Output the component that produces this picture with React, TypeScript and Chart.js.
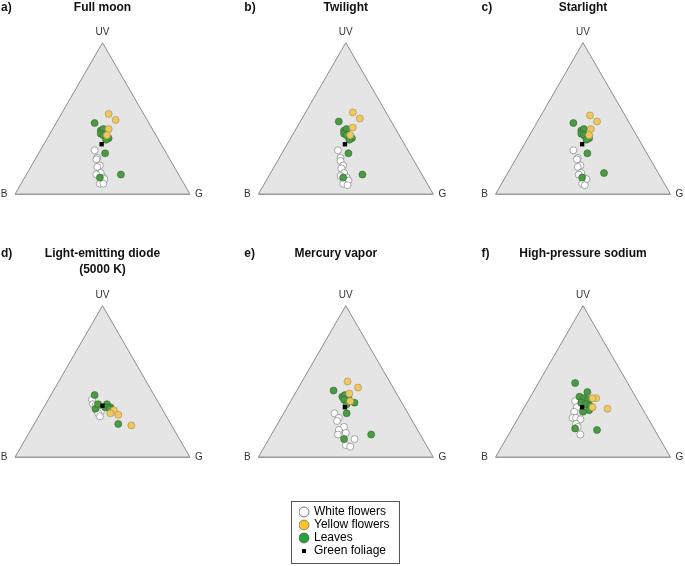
import React, { useEffect, useRef } from "react";
import { Chart, registerables } from "chart.js";

Chart.register(...registerables);

const FONT = '"Liberation Sans", Arial, Helvetica, sans-serif';
const SQRT3_2 = Math.sqrt(3) / 2;

// Ternary compositions in percent: [UV, B, G]
const TRIANGLE_SIDES = [[0, 100, 0], [100, 0, 0], [0, 0, 100]];
const TRIANGLE_BASE = [[0, 100, 0], [0, 0, 100]];

const FULL_MOON_WHITE = [[29, 40, 31], [24, 41, 35], [23, 42, 35], [19, 42, 39], [18, 44, 38], [14, 44, 42], [13, 47, 40], [11, 44, 45], [10, 44, 46], [7, 48, 45], [7, 46, 47]];
const FULL_MOON_YELLOW = [[53, 20, 27], [49, 18, 33], [43, 25, 32], [39, 28, 33]];
const FULL_MOON_GREEN = [[47, 31, 22], [42, 30, 28], [43, 28, 29], [40, 31, 29], [39, 30, 31], [37, 28, 35], [36, 30, 34], [27, 35, 38], [13, 33, 54], [11, 46, 43]];
const FULL_MOON_FOLIAGE = [[33, 34, 33]];

const TWILIGHT_WHITE = [[29, 40, 31], [24, 41, 35], [22, 42, 36], [19, 42, 39], [17, 44, 39], [14, 44, 42], [12, 47, 41], [11, 44, 45], [9, 44, 47], [7, 48, 45], [6, 46, 48]];
const TWILIGHT_YELLOW = [[54, 19, 27], [50, 17, 33], [44, 24, 32], [39, 28, 33]];
const TWILIGHT_GREEN = [[48, 30, 22], [42, 30, 28], [43, 28, 29], [40, 31, 29], [39, 30, 31], [37, 28, 35], [36, 30, 34], [27, 35, 38], [13, 34, 53], [11, 46, 43]];
const TWILIGHT_FOLIAGE = [[33, 34, 33]];

const STARLIGHT_WHITE = [[29, 41, 30], [24, 41, 35], [23, 42, 35], [19, 42, 39], [18, 44, 38], [14, 44, 42], [13, 46, 41], [11, 44, 45], [10, 43, 47], [7, 47, 46], [6, 46, 48]];
const STARLIGHT_YELLOW = [[52, 20, 28], [48, 18, 34], [43, 24, 33], [39, 27, 34]];
const STARLIGHT_GREEN = [[47, 32, 21], [42, 30, 28], [43, 28, 29], [40, 31, 29], [39, 30, 31], [37, 28, 35], [36, 30, 34], [27, 34, 39], [14, 31, 55], [11, 45, 44]];
const STARLIGHT_FOLIAGE = [[33, 34, 33]];

const LED_WHITE = [[38, 37, 25], [35, 38, 27], [34, 37, 29], [31, 38, 31], [30, 36, 34], [29, 38, 33], [27, 38, 35]];
const LED_YELLOW = [[31, 28, 41], [29, 31, 40], [28, 27, 45], [21, 23, 56]];
const LED_GREEN = [[41, 34, 25], [32, 38, 30], [35, 35, 30], [35, 30, 35], [33, 29, 38], [33, 32, 35], [32, 30, 38], [22, 30, 48]];
const LED_FOLIAGE = [[34, 33, 33]];

const MERCURY_WHITE = [[29, 42, 29], [26, 41, 33], [24, 43, 33], [20, 41, 39], [18, 45, 37], [16, 42, 42], [15, 47, 38], [12, 39, 49], [8, 46, 46], [7, 44, 49]];
const MERCURY_YELLOW = [[50, 24, 26], [46, 20, 34], [42, 27, 31], [37, 29, 34]];
const MERCURY_GREEN = [[44, 35, 21], [40, 32, 28], [41, 30, 29], [39, 29, 32], [38, 32, 30], [36, 27, 37], [35, 32, 33], [29, 35, 36], [15, 28, 57], [12, 45, 43]];
const MERCURY_FOLIAGE = [[33, 34, 33]];

const HPS_WHITE = [[37, 36, 27], [33, 37, 30], [30, 40, 30], [26, 43, 31], [26, 41, 33], [25, 39, 36], [22, 43, 35], [20, 43, 37], [15, 44, 41]];
const HPS_YELLOW = [[39, 23, 38], [39, 25, 36], [33, 28, 39], [32, 20, 48]];
const HPS_GREEN = [[49, 30, 21], [43, 26, 31], [40, 32, 28], [39, 30, 31], [38, 28, 34], [36, 33, 31], [35, 31, 34], [34, 29, 37], [31, 31, 38], [30, 35, 35], [19, 45, 36], [18, 33, 49]];
const HPS_FOLIAGE = [[33, 34, 33]];

const PANEL_LETTERS = ["a)", "b)", "c)", "d)", "e)", "f)"];
const PANEL_TITLES = [["Full moon"], ["Twilight"], ["Starlight"], ["Light-emitting diode", "(5000 K)"], ["Mercury vapor"], ["High-pressure sodium"]];
const VERTEX_LABELS = ["UV", "B", "G"];
const LEGEND_LABELS = ["White flowers", "Yellow flowers", "Leaves", "Green foliage"];

const PANEL_DATA = [
  [FULL_MOON_WHITE, FULL_MOON_YELLOW, FULL_MOON_GREEN, FULL_MOON_FOLIAGE],
  [TWILIGHT_WHITE, TWILIGHT_YELLOW, TWILIGHT_GREEN, TWILIGHT_FOLIAGE],
  [STARLIGHT_WHITE, STARLIGHT_YELLOW, STARLIGHT_GREEN, STARLIGHT_FOLIAGE],
  [LED_WHITE, LED_YELLOW, LED_GREEN, LED_FOLIAGE],
  [MERCURY_WHITE, MERCURY_YELLOW, MERCURY_GREEN, MERCURY_FOLIAGE],
  [HPS_WHITE, HPS_YELLOW, HPS_GREEN, HPS_FOLIAGE],
];

// layout
const TRI_W = 175;
const TRI_H = TRI_W * SQRT3_2;
const COLS = [
  { x: 0, w: 228, triLeft: 15 },
  { x: 228, w: 228, triLeft: 258.3 },
  { x: 456, w: 229, triLeft: 495.5 },
];
const ROWS = [
  { y: 0, h: 236, apexY: 42.7, titleY: 7.5 },
  { y: 236, h: 254, apexY: 305.7, titleY: 18 },
];
const TITLE_DX = [0, 0, 0, 0, -10, 0];

const toXY = (t: number[]) => {
  const [uv, b, g] = t;
  const s = uv + b + g;
  return { x: (g + uv / 2) / s, y: (uv / s) * SQRT3_2 };
};

const STYLES = {
  white: { bg: "#ffffff", border: "#707070" },
  yellow: { bg: "#f2c85a", border: "#9b8c5c" },
  green: { bg: "#4c9a44", border: "#2f6a2c" },
};

function Panel({ index }: { index: number }) {
  const ref = useRef<HTMLCanvasElement | null>(null);
  const col = COLS[index % 3];
  const row = ROWS[Math.floor(index / 3)];
  useEffect(() => {
    if (!ref.current) return;
    const [white, yellow, green, foliage] = PANEL_DATA[index];
    const pad = {
      left: col.triLeft - col.x,
      right: col.x + col.w - (col.triLeft + TRI_W),
      top: row.apexY - row.y,
      bottom: row.y + row.h - (row.apexY + TRI_H),
    };
    const labelPlugin = {
      id: "ternaryLabels",
      afterDraw(chart: any) {
        const { ctx } = chart;
        const xs = chart.scales.x;
        const ys = chart.scales.y;
        const ax = xs.getPixelForValue(0.5);
        const ay = ys.getPixelForValue(SQRT3_2);
        const bx = xs.getPixelForValue(0);
        const by = ys.getPixelForValue(0);
        const gx = xs.getPixelForValue(1);
        ctx.save();
        ctx.textBaseline = "middle";
        ctx.textAlign = "center";
        ctx.font = `10px ${FONT}`;
        ctx.fillStyle = "#333333";
        ctx.fillText(VERTEX_LABELS[0], ax, ay - 10);
        ctx.fillText(VERTEX_LABELS[1], bx - 11, by);
        ctx.fillText(VERTEX_LABELS[2], gx + 9, by);
        ctx.font = `bold 12px ${FONT}`;
        ctx.fillStyle = "#111111";
        PANEL_TITLES[index].forEach((line, i) => {
          ctx.fillText(line, ax + TITLE_DX[index], row.titleY + i * 16);
        });
        ctx.textAlign = "left";
        ctx.fillText(PANEL_LETTERS[index], bx - 14, row.titleY);
        ctx.restore();
      },
    };
    const pt = (data: number[][], st: { bg: string; border: string }, order: number, label: string) => ({
      type: "scatter" as const,
      label,
      data: data.map(toXY),
      backgroundColor: st.bg,
      borderColor: st.border,
      borderWidth: 0.6,
      pointRadius: 3.5,
      pointHoverRadius: 3.5,
      order,
      clip: false as any,
    });
    const chart = new Chart(ref.current, {
      type: "scatter",
      data: {
        datasets: [
          {
            type: "scatter",
            label: LEGEND_LABELS[3],
            data: foliage.map(toXY),
            backgroundColor: "#000000",
            borderColor: "#000000",
            borderWidth: 0,
            pointStyle: "rect",
            pointRadius: 3.1,
            pointHoverRadius: 3.1,
            order: 1,
            clip: false as any,
          },
          pt(yellow, STYLES.yellow, 2, LEGEND_LABELS[1]),
          pt(green, STYLES.green, 3, LEGEND_LABELS[2]),
          pt(white, STYLES.white, 4, LEGEND_LABELS[0]),
          {
            type: "line",
            label: "triangle base",
            data: TRIANGLE_BASE.map(toXY),
            borderColor: "#9a9a9a",
            borderWidth: 1.6,
            fill: false,
            pointRadius: 0,
            pointHoverRadius: 0,
            tension: 0,
            order: 5,
            clip: false as any,
          } as any,
          {
            type: "line",
            label: "triangle",
            data: TRIANGLE_SIDES.map(toXY),
            borderColor: "#8c8c8c",
            borderWidth: 1,
            backgroundColor: "#e5e5e5",
            fill: "origin",
            pointRadius: 0,
            pointHoverRadius: 0,
            tension: 0,
            order: 6,
            clip: false as any,
          } as any,
        ],
      },
      options: {
        responsive: false,
        animation: false,
        events: [],
        layout: { padding: pad },
        scales: {
          x: { type: "linear", min: 0, max: 1, display: false },
          y: { type: "linear", min: 0, max: SQRT3_2, display: false },
        },
        plugins: {
          legend: { display: false },
          tooltip: { enabled: false },
          title: { display: false },
        },
      },
      plugins: [labelPlugin],
    } as any);
    return () => chart.destroy();
  }, [index]);
  return (
    <canvas
      ref={ref}
      width={col.w}
      height={row.h}
      style={{ position: "absolute", left: col.x, top: row.y, width: col.w, height: row.h }}
    />
  );
}

function Legend() {
  const ref = useRef<HTMLCanvasElement | null>(null);
  useEffect(() => {
    if (!ref.current) return;
    const sq = document.createElement("canvas");
    sq.width = 4;
    sq.height = 4;
    const sctx = sq.getContext("2d");
    if (sctx) {
      sctx.fillStyle = "#000";
      sctx.fillRect(0, 0, 4, 4);
    }
    const chart = new Chart(ref.current, {
      type: "scatter",
      data: {
        datasets: [
          { label: LEGEND_LABELS[0], data: [], backgroundColor: "#ffffff", borderColor: "#555555", borderWidth: 0.8, pointStyle: "circle" },
          { label: LEGEND_LABELS[1], data: [], backgroundColor: "#f9c424", borderColor: "#777777", borderWidth: 0.8, pointStyle: "circle" },
          { label: LEGEND_LABELS[2], data: [], backgroundColor: "#22a33c", borderColor: "#555555", borderWidth: 0.8, pointStyle: "circle" },
          { label: LEGEND_LABELS[3], data: [], backgroundColor: "#000000", borderColor: "#000000", borderWidth: 0, pointStyle: sq },
        ],
      },
      options: {
        responsive: false,
        animation: false,
        events: [],
        layout: { padding: { left: 7, top: 3, right: 0, bottom: 0 } },
        scales: { x: { display: false }, y: { display: false } },
        plugins: {
          tooltip: { enabled: false },
          legend: {
            display: true,
            position: "top",
            align: "start",
            maxHeight: 200,
            labels: {
              usePointStyle: true,
              boxWidth: 8,
              boxHeight: 7,
              padding: 1,
              color: "#000000",
              font: { size: 12, family: FONT },
            },
          },
        },
      },
    } as any);
    return () => chart.destroy();
  }, []);
  return (
    <div
      style={{
        position: "absolute",
        left: 291,
        top: 501,
        width: 107,
        height: 61,
        border: "1px solid #555",
      }}
    >
      <canvas ref={ref} width={107} height={61} style={{ display: "block", width: 107, height: 61 }} />
    </div>
  );
}

export default function App() {
  return (
    <div style={{ position: "absolute", left: 0, top: 0, width: 685, height: 566, background: "#ffffff", overflow: "hidden" }}>
      {[0, 1, 2, 3, 4, 5].map((i) => (
        <Panel key={i} index={i} />
      ))}
      <Legend />
    </div>
  );
}
